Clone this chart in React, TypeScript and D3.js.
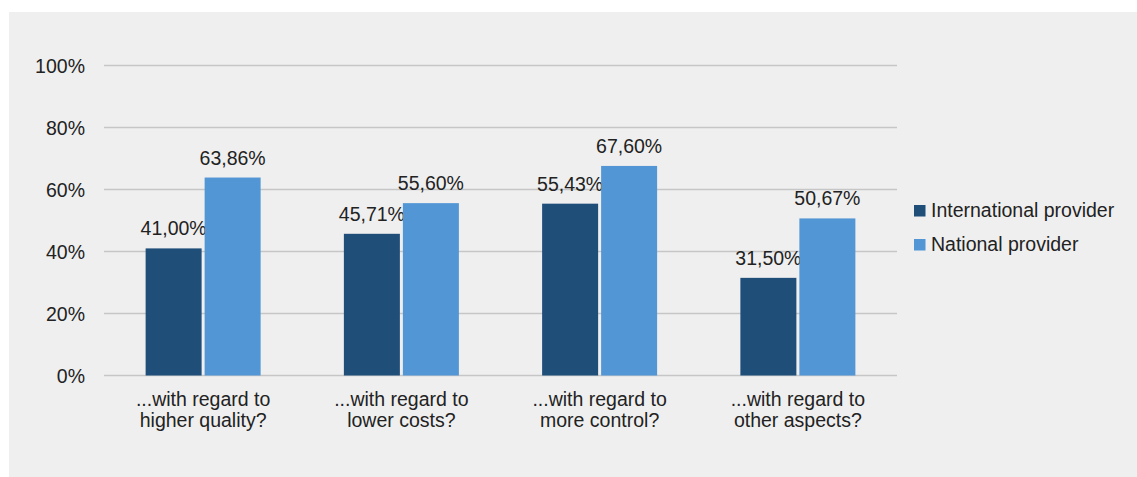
import React from "react";
import * as d3 from "d3";

const categories = [
  ["...with regard to", "higher quality?"],
  ["...with regard to", "lower costs?"],
  ["...with regard to", "more control?"],
  ["...with regard to", "other aspects?"],
];
const seriesNames = ["International provider", "National provider"];
const international = [41.0, 45.71, 55.43, 31.5];
const national = [63.86, 55.6, 67.6, 50.67];
const yTicks = [0, 20, 40, 60, 80, 100];
const colors = ["#1F4E79", "#5296D5"];

const W = 1137;
const H = 477;
const left = 104;
const right = 897;
const top = 65.5;
const bottom = 375.5;

export default function App() {
  const x = d3.scaleBand<number>().domain(d3.range(categories.length)).range([left, right]);
  const y = d3.scaleLinear().domain([0, 100]).range([bottom, top]);
  const series = [international, national];
  const barW = 56;
  const gap = 3;
  const fs = 19.5;
  const fmt = (v: number) => v.toFixed(2).replace(".", ",") + "%";
  const font = "Liberation Sans, Arial, sans-serif";
  const tc = "#222222";
  return (
    <svg width={W} height={H} style={{ position: "absolute", left: 0, top: 0 }} fontFamily={font}>
      <rect x={9} y={12} width={W - 9} height={H - 12} fill="#efefef" />
      {yTicks.map((t) => (
        <g key={t}>
          <line x1={left} x2={right} y1={y(t)} y2={y(t)} stroke="#c6c6c6" strokeWidth={1.5} />
          <text x={85} y={y(t) + 7} textAnchor="end" fontSize={fs} fill={tc}>
            {t}%
          </text>
        </g>
      ))}
      {categories.map((c, i) => {
        const cx = (x(i) as number) + x.bandwidth() / 2;
        return (
          <g key={i}>
            {series.map((s, j) => {
              const bx = j === 0 ? cx - gap / 2 - barW : cx + gap / 2;
              return (
                <g key={j}>
                  <rect x={bx} y={y(s[i])} width={barW} height={bottom - y(s[i])} fill={colors[j]} />
                  <text x={bx + barW / 2} y={y(s[i]) - 13} textAnchor="middle" fontSize={fs} fill={tc}>
                    {fmt(s[i])}
                  </text>
                </g>
              );
            })}
            {c.map((line, k) => (
              <text key={k} x={cx} y={406 + k * 21} textAnchor="middle" fontSize={fs} fill={tc}>
                {line}
              </text>
            ))}
          </g>
        );
      })}
      {seriesNames.map((n, j) => (
        <g key={n}>
          <rect x={914} y={205 + j * 34} width={11.5} height={11.5} fill={colors[j]} />
          <text x={931} y={217 + j * 34} fontSize={fs} fill={tc}>
            {n}
          </text>
        </g>
      ))}
    </svg>
  );
}
